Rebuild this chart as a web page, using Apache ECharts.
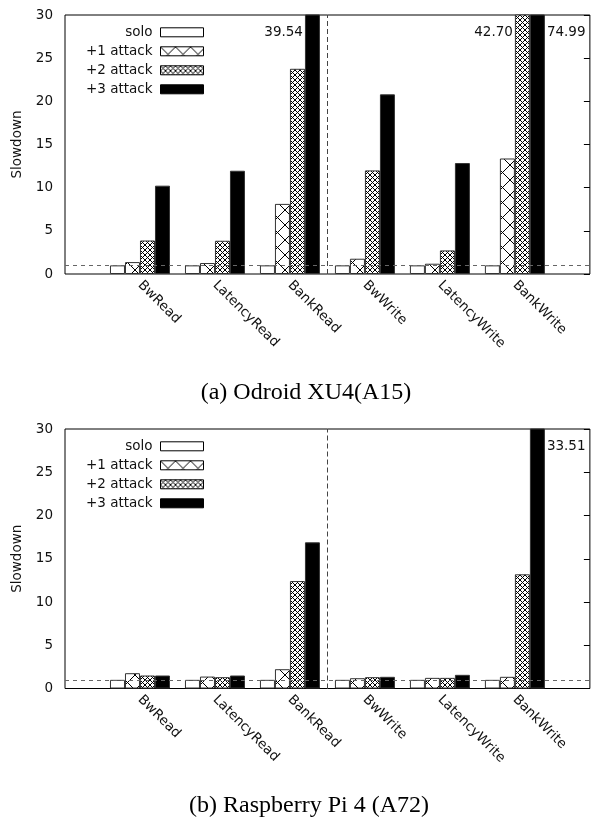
<!DOCTYPE html>
<html>
<head>
<meta charset="utf-8">
<script src="https://cdn.jsdelivr.net/npm/echarts@6/dist/echarts.min.js"></script>
<style>
html,body{margin:0;padding:0;background:#fff;}
#chart{width:592px;height:821px;}
</style>
</head>
<body>
<div id="chart"></div>
<script>
// ---- data ----
const categories = ['BwRead', 'LatencyRead', 'BankRead', 'BwWrite', 'LatencyWrite', 'BankWrite'];
const seriesNames = ['solo', '+1 attack', '+2 attack', '+3 attack'];

const odroidSolo    = [1, 1, 1, 1, 1, 1];
const odroidAttack1 = [1.38, 1.27, 8.12, 1.77, 1.19, 13.38];
const odroidAttack2 = [3.88, 3.85, 23.77, 12.0, 2.73, 42.70];
const odroidAttack3 = [10.23, 11.96, 39.54, 20.81, 12.85, 74.99];

const rpiSolo    = [1, 1, 1, 1, 1, 1];
const rpiAttack1 = [1.77, 1.38, 2.23, 1.19, 1.23, 1.35];
const rpiAttack2 = [1.5, 1.31, 12.42, 1.31, 1.23, 13.2];
const rpiAttack3 = [1.5, 1.5, 16.9, 1.35, 1.58, 33.51];

const yMin = 0, yMax = 30, yInterval = 5;
const baselineValue = 1;          // dashed horizontal reference
const separatorAt = 2.5;          // dashed vertical separator between Read and Write groups
const panelTitles = ['(a) Odroid XU4(A15)', '(b) Raspberry Pi 4 (A72)'];

// ---- patterns ----
function makeCross(size) {
  const c = document.createElement('canvas');
  c.width = size; c.height = size;
  const ctx = c.getContext('2d');
  ctx.fillStyle = '#fff';
  ctx.fillRect(0, 0, size, size);
  ctx.strokeStyle = '#000';
  ctx.lineWidth = 1;
  ctx.beginPath();
  ctx.moveTo(-1, -1); ctx.lineTo(size + 1, size + 1);
  ctx.moveTo(size + 1, -1); ctx.lineTo(-1, size + 1);
  ctx.stroke();
  return c;
}
const fills = [
  '#ffffff',
  { image: makeCross(15), repeat: 'repeat' },
  { image: makeCross(5), repeat: 'repeat' },
  '#000000'
];

const FONT = 'DejaVu Sans';
const TXT = '#111';

const panels = [
  { top: 15, height: 259, values: [odroidSolo, odroidAttack1, odroidAttack2, odroidAttack3] },
  { top: 429, height: 259.5, values: [rpiSolo, rpiAttack1, rpiAttack2, rpiAttack3] }
];

const grid = [], xAxis = [], yAxis = [], series = [], legend = [], graphic = [];
const catData = [''].concat(categories).concat(['']);

panels.forEach((p, pi) => {
  grid.push({ left: 65, top: p.top, width: 526, height: p.height, show: true,
    borderColor: '#000', borderWidth: 1, backgroundColor: 'transparent', containLabel: false });
  // category axis
  xAxis.push({ type: 'category', gridIndex: pi, data: catData, boundaryGap: false,
    axisLine: { show: false }, axisTick: { show: false }, splitLine: { show: false },
    axisLabel: { interval: 0, rotate: -45, margin: 9, fontFamily: FONT, fontSize: 13.5, color: TXT } });
  // helper value axis for separator
  xAxis.push({ type: 'value', gridIndex: pi, min: -1, max: categories.length, show: false });
  yAxis.push({ type: 'value', gridIndex: pi, min: yMin, max: yMax, interval: yInterval,
    name: 'Slowdown', nameLocation: 'middle', nameGap: 40,
    nameTextStyle: { fontFamily: FONT, fontSize: 13.5, color: TXT },
    axisLine: { show: false }, axisTick: { show: false }, splitLine: { show: false },
    axisLabel: { margin: 12, fontFamily: FONT, fontSize: 13.5, color: TXT } });
  yAxis.push({ type: 'value', gridIndex: pi, min: yMin, max: yMax, interval: yInterval, position: 'right',
    axisLine: { show: false }, axisLabel: { show: false }, splitLine: { show: false },
    axisTick: { show: true, inside: true, length: 6, lineStyle: { color: '#000' } } });

  const xi = pi * 2, yi = pi * 2;
  p.values.forEach((vals, si) => {
    const data = ['-'].concat(vals.map((v, ci) => {
      if (v > yMax) {
        const rightSide = (si === 3 && ci === categories.length - 1);
        return { value: v, label: {
          show: true, formatter: v.toFixed(2),
          position: rightSide ? ['100%', 18] : [0, 18],
          offset: rightSide ? [2, 0] : [-2, 0],
          align: rightSide ? 'left' : 'right', verticalAlign: 'middle',
          fontFamily: FONT, fontSize: 13.5, color: TXT } };
      }
      return v;
    })).concat(['-']);
    const s = {
      name: seriesNames[si], type: 'bar', xAxisIndex: xi, yAxisIndex: yi,
      data: data, barWidth: 15, barGap: '0%', clip: true,
      itemStyle: { color: fills[si], borderColor: '#333', borderWidth: 1 },
      emphasis: { disabled: true }, animation: false
    };
    if (si === 0) {
      s.markLine = { silent: true, symbol: 'none', animation: false,
        label: { show: false },
        lineStyle: { color: '#666', type: [4, 4], width: 1 },
        data: [{ yAxis: baselineValue }] };
    }
    series.push(s);
  });
  series.push({ type: 'line', xAxisIndex: xi + 1, yAxisIndex: yi, data: [[separatorAt, 0]],
    showSymbol: false, symbol: 'none', lineStyle: { width: 0 }, silent: true, animation: false,
    markLine: { silent: true, symbol: 'none', animation: false, label: { show: false },
      lineStyle: { color: '#444', type: [5, 3], width: 1 },
      data: [{ xAxis: separatorAt }] } });

  legend.push({ data: seriesNames, orient: 'vertical', align: 'right', right: 388, top: p.top + 9.3,
    padding: 0, itemGap: 3, itemWidth: 43, itemHeight: 9, icon: 'rect', selectedMode: false,
    itemStyle: { borderColor: '#000', borderWidth: 1 },
    textStyle: { fontFamily: FONT, fontSize: 13.5, color: TXT, lineHeight: 16, padding: [0, 3, 0, 0] } });
});

graphic.push({ type: 'text', x: 306, y: 393, style: { text: panelTitles[0], font: '24px "Liberation Serif"', fill: '#000', textAlign: 'center', textVerticalAlign: 'middle' } });
graphic.push({ type: 'text', x: 309, y: 806, style: { text: panelTitles[1], font: '24px "Liberation Serif"', fill: '#000', textAlign: 'center', textVerticalAlign: 'middle' } });

const chart = echarts.init(document.getElementById('chart'), null, { renderer: 'canvas' });
chart.setOption({ animation: false, grid, xAxis, yAxis, series, legend, graphic });
</script>
</body>
</html>
